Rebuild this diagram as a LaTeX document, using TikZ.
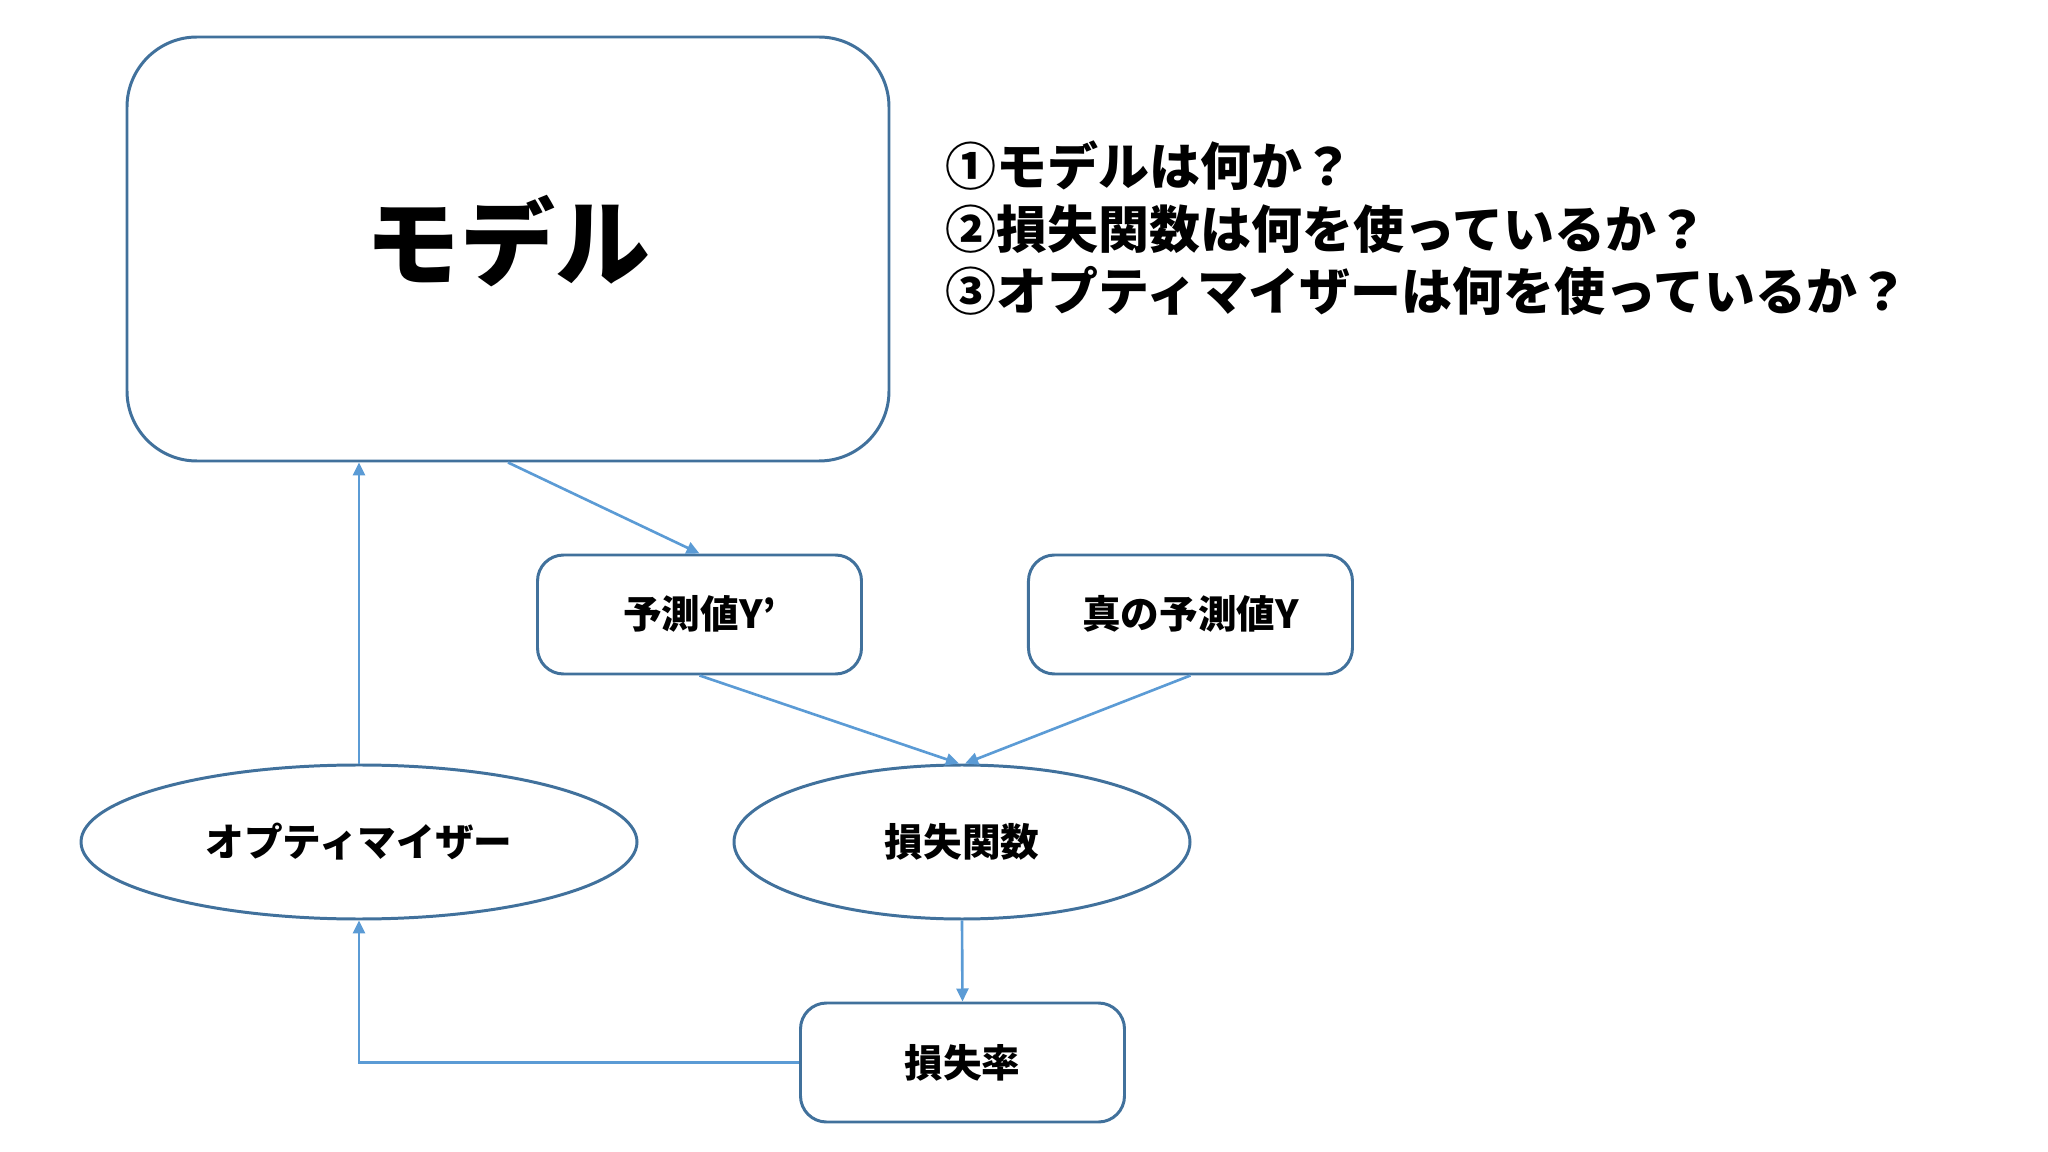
\documentclass[tikz,border=0pt]{standalone}
\usepackage{fontspec}
\setmainfont{Noto Sans CJK JP}
\usepackage{tikz}
\usetikzlibrary{arrows.meta,positioning,calc,shapes.geometric}
\definecolor{boxLine}{HTML}{41719C}
\definecolor{arrLine}{HTML}{5B9BD5}

\begin{document}
\begin{tikzpicture}[>={Triangle[length=1.3mm,width=1.2mm]},
  box/.style={draw=boxLine,line width=0.85pt,rounded corners=2.6mm,minimum width=3.24cm,minimum height=1.19cm,font=\fontsize{11}{13}\selectfont\bfseries},
  oval/.style={draw=boxLine,line width=0.85pt,ellipse,minimum height=1.54cm,font=\fontsize{11}{13}\selectfont\bfseries},
  link/.style={draw=arrLine,line width=0.75pt,->}]
\useasboundingbox (0,0) rectangle (20.48,-11.52);
\node[draw=boxLine,line width=0.85pt,rounded corners=7mm,minimum width=7.62cm,minimum height=4.24cm,font=\fontsize{27}{30}\selectfont\bfseries] (model) at (5.08,-2.49) {\raisebox{2.4mm}{モデル}};
\node[anchor=north west,align=left,inner sep=0pt,font=\fontsize{14.5}{17.8}\selectfont\bfseries] (questions) at (9.45,-1.40) {①モデルは何か？\\②損失関数は何を使っているか？\\③オプティマイザーは何を使っているか？};
\node[box] (pred) at (6.995,-6.145) {\raisebox{0.5mm}{予測値Y’}};
\node[box,right=1.64cm of pred] (truth) {\raisebox{0.5mm}{真の予測値Y}};
\node[oval,minimum width=4.56cm] (loss) at (9.62,-8.42) {損失関数};
\node[oval,minimum width=5.56cm] (opt) at (3.59,-8.42) {オプティマイザー};
\node[box] (rate) at (9.625,-10.625) {損失率};
\draw[link] (model.south)--(pred.north);
\draw[link] (pred.south)--($(loss.north)+(-0.03,0)$);
\draw[link] (truth.south)--($(loss.north)+(0.03,0)$);
\draw[link] (loss.south)--(rate.north);
\draw[link] (rate.west)-|(opt.south);
\draw[link] (opt.north)--(opt.north|-model.south);
\end{tikzpicture}
\end{document}
